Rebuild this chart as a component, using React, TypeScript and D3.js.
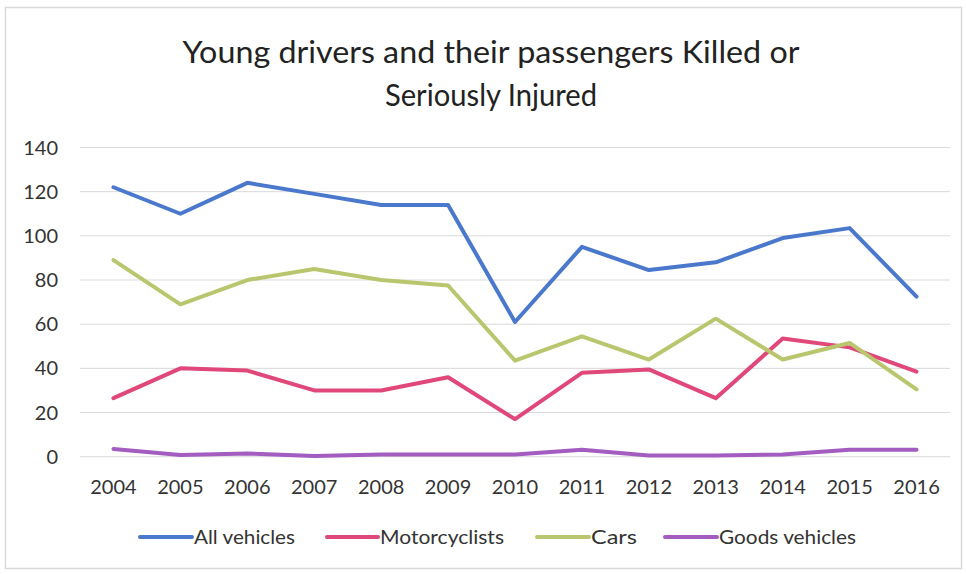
import React from "react";
import * as d3 from "d3";

const years = ["2004","2005","2006","2007","2008","2009","2010","2011","2012","2013","2014","2015","2016"];
const allVehicles = [122, 110, 124, 119, 114, 114, 61, 95, 84.5, 88, 99, 103.5, 72.5];
const motorcyclists = [26.5, 40, 39, 30, 30, 36, 17, 38, 39.5, 26.5, 53.5, 49.5, 38.5];
const cars = [89, 69, 80, 85, 80, 77.5, 43.5, 54.5, 44, 62.5, 44, 51.5, 30.5];
const goods = [3.5, 0.8, 1.5, 0.3, 1, 1, 1, 3.2, 0.5, 0.5, 1, 3.2, 3.2];
const yTicks = [0, 20, 40, 60, 80, 100, 120, 140];
const seriesNames = ["All vehicles", "Motorcyclists", "Cars", "Goods vehicles"];
const titleLines = ["Young drivers and their passengers Killed or", "Seriously Injured"];

const colors = ["#4a78cc", "#e0487a", "#b9c66e", "#a35cc0"];
const FONT = "Lato, 'Open Sans', sans-serif";

export default function App() {
  const W = 966, H = 574;
  const left = 80, right = 950, top = 147.5, bottom = 456.7;
  const x = d3.scaleBand().domain(years).range([left, right]);
  const y = d3.scaleLinear().domain([0, 140]).range([bottom, top]);
  const series = [allVehicles, motorcyclists, cars, goods];
  const line = d3.line<number>()
    .x((_, i) => (x(years[i]) as number) + x.bandwidth() / 2)
    .y((d) => y(d));

  const legendItems = [
    { lx: 140, tx: 194, w: 101 },
    { lx: 327, tx: 380, w: 124 },
    { lx: 537, tx: 591, w: 46 },
    { lx: 665, tx: 719, w: 137 },
  ];
  const titleWidths = [617, 212];

  return (
    <svg width={W} height={H} style={{ position: "absolute", left: 0, top: 0, background: "#fff" }} fontFamily={FONT}>
      <rect x={0} y={0} width={W} height={H} fill="#fff" />
      <rect x={5.5} y={7.5} width={956} height={561} fill="none" stroke="#d9d9d9" strokeWidth={1.5} />
      {titleLines.map((t, i) => (
        <text key={i} x={491} y={63 + i * 43} textAnchor="middle" fontSize={30} fill="#222"
          textLength={titleWidths[i]} lengthAdjust="spacingAndGlyphs">{t}</text>
      ))}
      {yTicks.map((t) => (
        <g key={t}>
          <line x1={left} x2={right} y1={y(t)} y2={y(t)} stroke="#d9d9d9" strokeWidth={1} />
          <text x={58} y={y(t)} dy="0.35em" textAnchor="end" fontSize={20} fill="#333">{t}</text>
        </g>
      ))}
      {years.map((yr) => (
        <text key={yr} x={(x(yr) as number) + x.bandwidth() / 2} y={487} dy="0.35em" textAnchor="middle" fontSize={20} fill="#333">{yr}</text>
      ))}
      {series.map((s, i) => (
        <path key={i} d={line(s) as string} fill="none" stroke={colors[i]} strokeWidth={4} strokeLinejoin="round" strokeLinecap="round" />
      ))}
      {seriesNames.map((n, i) => (
        <g key={n}>
          <line x1={legendItems[i].lx} x2={legendItems[i].tx - 2} y1={537} y2={537} stroke={colors[i]} strokeWidth={4} strokeLinecap="round" />
          <text x={legendItems[i].tx} y={537} dy="0.35em" fontSize={20} fill="#333"
            textLength={legendItems[i].w} lengthAdjust="spacingAndGlyphs">{n}</text>
        </g>
      ))}
    </svg>
  );
}
